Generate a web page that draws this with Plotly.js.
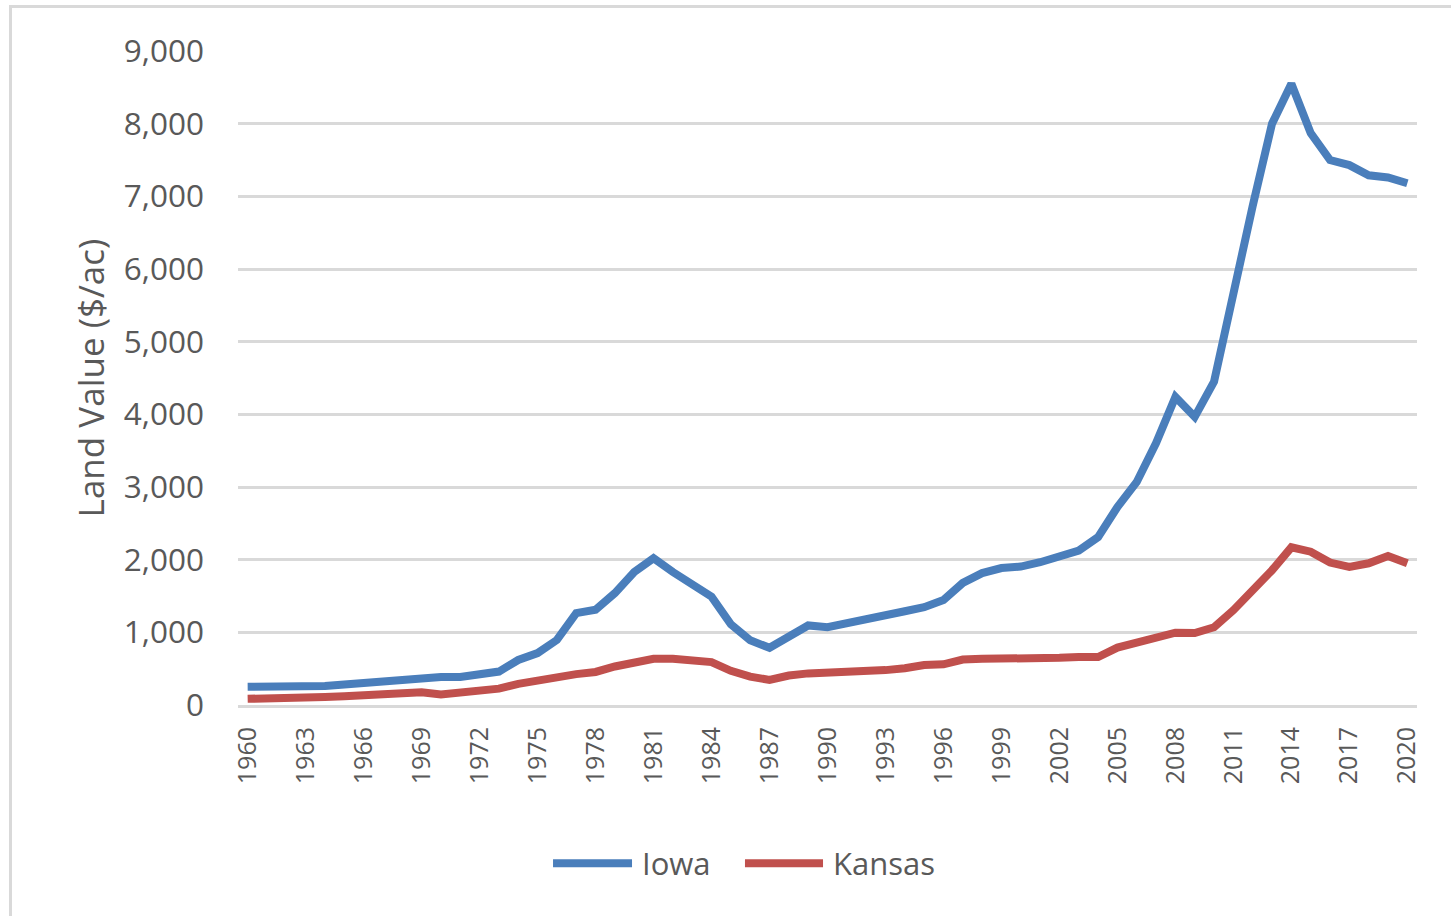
<!DOCTYPE html>
<html>
<head>
<meta charset="utf-8">
<script src="https://cdn.plot.ly/plotly-3.0.1.min.js"></script>
<style>
  html, body { margin: 0; padding: 0; background: #ffffff; }
  #wrap { position: relative; width: 1451px; height: 916px; overflow: hidden; }
  #chart { position: absolute; left: 0; top: 0; width: 1451px; height: 916px; }
  #frame {
    position: absolute; left: 9px; top: 5px; right: -10px; bottom: -10px;
    border-left: 3px solid #d9d9d9; border-top: 3px solid #d9d9d9;
    pointer-events: none;
  }
</style>
</head>
<body>
<div id="wrap">
  <div id="chart"></div>
  <div id="frame"></div>
</div>
<script>
// Farmland value per acre, 1960-2020
const years = [
  1960, 1961, 1962, 1963, 1964, 1965, 1966, 1967, 1968, 1969,
  1970, 1971, 1972, 1973, 1974, 1975, 1976, 1977, 1978, 1979,
  1980, 1981, 1982, 1983, 1984, 1985, 1986, 1987, 1988, 1989,
  1990, 1991, 1992, 1993, 1994, 1995, 1996, 1997, 1998, 1999,
  2000, 2001, 2002, 2003, 2004, 2005, 2006, 2007, 2008, 2009,
  2010, 2011, 2012, 2013, 2014, 2015, 2016, 2017, 2018, 2019,
  2020
];

const iowa = [
  250, 250, 250, 252, 260, 283, 305, 333, 355, 378,
  385, 385, 410, 460, 620, 715, 895, 1265, 1310, 1540,
  1830, 2020, 1830, 1675, 1490, 1110, 890, 787, 940, 1095,
  1070, 1120, 1165, 1220, 1290, 1345, 1445, 1680, 1815, 1885,
  1905, 1965, 2035, 2125, 2310, 2725, 3070, 3605, 4240, 3965,
  4450, 5680, 6870, 8000, 8550, 7870, 7500, 7430, 7290, 7260,
  7180
];

const kansas = [
  85, 85, 90, 105, 110, 120, 135, 145, 155, 175,
  145, 165, 180, 225, 290, 345, 380, 425, 455, 530,
  595, 635, 635, 600, 590, 470, 390, 345, 405, 435,
  440, 445, 465, 480, 505, 550, 560, 625, 635, 635,
  630, 625, 650, 660, 660, 790, 855, 935, 995, 990,
  1070, 1305, 1580, 1855, 2170, 2110, 1960, 1900, 1950, 2050,
  1950
];

const seriesNames = ['Iowa', 'Kansas'];
const seriesColors = ['#4a7ebb', '#c0504d'];

const FONT = '"Open Sans", "Noto Sans", sans-serif';
const GREY_TEXT = '#595959';

const traces = [
  {
    x: years, y: iowa, name: seriesNames[0], type: 'scatter', mode: 'lines',
    line: { color: seriesColors[0], width: 8 }
  },
  {
    x: years, y: kansas, name: seriesNames[1], type: 'scatter', mode: 'lines',
    line: { color: seriesColors[1], width: 8 }
  }
];

// Legend drawn as long line keys with labels below the plot
const legendY = -0.242;
const legendKeys = [
  { x0: 0.2672, x1: 0.3342, tx: 0.3410 },
  { x0: 0.4300, x1: 0.4962, tx: 0.5030 }
];
const shapes = legendKeys.map((k, i) => ({
  type: 'line', xref: 'paper', yref: 'paper',
  x0: k.x0, x1: k.x1, y0: legendY, y1: legendY,
  line: { color: seriesColors[i], width: 8 }
}));
const annotations = legendKeys.map((k, i) => ({
  xref: 'paper', yref: 'paper', x: k.tx, y: legendY,
  xanchor: 'left', yanchor: 'middle', showarrow: false,
  text: seriesNames[i],
  font: { family: FONT, size: 31, color: GREY_TEXT }
}));

const layout = {
  width: 1451, height: 916,
  margin: { l: 238, r: 34, t: 51, b: 211 },
  paper_bgcolor: '#ffffff', plot_bgcolor: '#ffffff',
  showlegend: false,
  font: { family: FONT, color: GREY_TEXT },
  xaxis: {
    range: [1959.5, 2020.5],
    tickmode: 'linear', tick0: 1960, dtick: 3,
    tickangle: -90,
    tickfont: { family: FONT, size: 25, color: GREY_TEXT },
    showgrid: false, zeroline: false,
    showline: true, linecolor: '#d9d9d9', linewidth: 3,
    ticks: '', ticklabelstandoff: 9,
    fixedrange: true
  },
  yaxis: {
    range: [0, 9000],
    tickmode: 'linear', tick0: 0, dtick: 1000,
    tickformat: ',d',
    tickfont: { family: FONT, size: 31.5, color: GREY_TEXT },
    showgrid: true, gridcolor: '#d9d9d9', gridwidth: 3,
    zeroline: false, showline: false,
    ticks: '', ticklabelstandoff: 33,
    title: {
      text: 'Land Value ($/ac)',
      font: { family: FONT, size: 35, color: GREY_TEXT },
      standoff: 8
    },
    fixedrange: true
  },
  shapes: shapes,
  annotations: annotations
};

Plotly.newPlot('chart', traces, layout, { displayModeBar: false, staticPlot: true });
</script>
</body>
</html>
